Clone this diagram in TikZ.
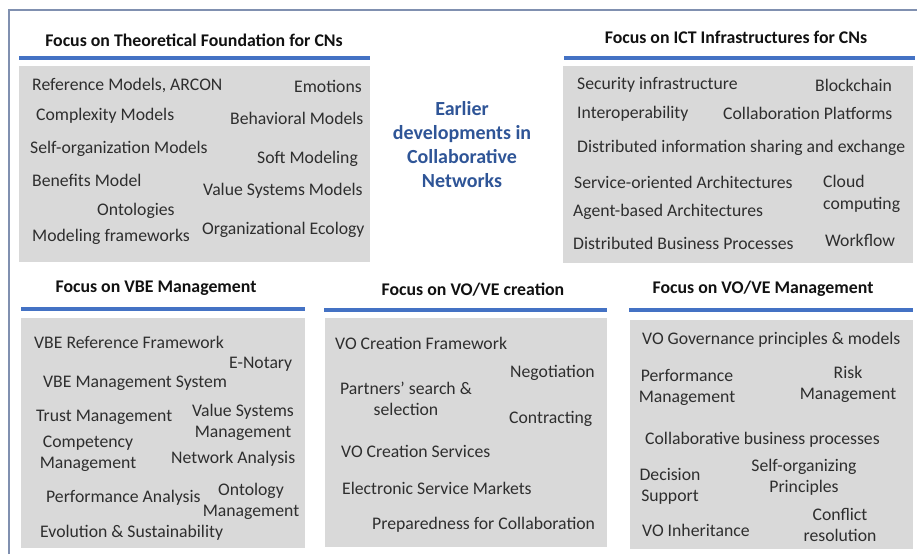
\documentclass[tikz,border=0pt]{standalone}
\usepackage{fontspec}
\setmainfont{Carlito}
\definecolor{framec}{HTML}{8090B0}
\definecolor{barc}{HTML}{4472C4}
\definecolor{panelc}{HTML}{D9D9D9}
\definecolor{itemc}{HTML}{2E2E2E}
\definecolor{titlec}{HTML}{111111}
\definecolor{centerc}{HTML}{2F5597}
\begin{document}
\begin{tikzpicture}[x=1pt,y=-1pt,
  panel/.style={fill=panelc,draw=none},
  bar/.style={draw=barc,line width=3.5pt},
  frameline/.style={draw=framec,line width=1.2pt},
  ttl/.style={inner sep=0pt,text=titlec,font=\fontsize{17.8}{20}\selectfont\bfseries},
  itm/.style={inner sep=0pt,anchor=west,text=itemc,font=\fontsize{17.7}{21}\selectfont},
  itmc/.style={inner sep=0pt,anchor=center,align=center,text=itemc,font=\fontsize{17.7}{21}\selectfont},
  itml/.style={inner sep=0pt,anchor=west,align=left,text=itemc,font=\fontsize{17.7}{22}\selectfont},
  ctr/.style={inner sep=0pt,align=center,text=centerc,font=\fontsize{20}{24}\selectfont\bfseries}]
\useasboundingbox (0,0) rectangle (917,554);
% outer frame
\coordinate (fa) at (9,554);
\coordinate (fb) at (9,10);
\coordinate (fc) at (917,10);
\draw[frameline] (fa) -- (fb) -- (fc);
% panel backgrounds
\path[panel] (19,66) rectangle (370,262);
\path[panel] (563,66) rectangle (913,263);
\path[panel] (21,318) rectangle (305,548);
\path[panel] (325,318) rectangle (607,547);
\path[panel] (630,320) rectangle (913,549);
% title bars
\coordinate (b1a) at (19,58); \coordinate (b1b) at (370,58);
\coordinate (b2a) at (564,58); \coordinate (b2b) at (915,58);
\coordinate (b3a) at (21,309); \coordinate (b3b) at (305,309);
\coordinate (b4a) at (324,310); \coordinate (b4b) at (607,310);
\coordinate (b5a) at (629,310); \coordinate (b5b) at (913,310);
\draw[bar] (b1a) -- (b1b);
\draw[bar] (b2a) -- (b2b);
\draw[bar] (b3a) -- (b3b);
\draw[bar] (b4a) -- (b4b);
\draw[bar] (b5a) -- (b5b);
% titles
\node[ttl] (t1) at (194,40) {Focus on Theoretical Foundation for CNs};
\node[ttl] (t2) at (736,37) {Focus on ICT Infrastructures for CNs};
\node[ttl] (t3) at (156,288) {Focus on VBE Management};
\node[ttl] (t4) at (473,290) {Focus on VO/VE creation};
\node[ttl] (t5) at (763,289) {Focus on VO/VE Management};
% centre text
\node[ctr] (ctr) at (462,145) {Earlier\\developments in\\Collaborative\\Networks};
% panel 1
\node[itm] (p1a) at (32,85) {Reference Models, ARCON};
\node[itm] (p1b) at (294,86) {Emotions};
\node[itm] (p1c) at (36,116) {Complexity Models};
\node[itm] (p1d) at (230,118) {Behavioral Models};
\node[itm] (p1e) at (30,149) {Self-organization Models};
\node[itm] (p1f) at (257,159) {Soft Modeling};
\node[itm] (p1g) at (32,180) {Benefits Model};
\node[itm] (p1h) at (203,191) {Value Systems Models};
\node[itm] (p1i) at (97,211) {Ontologies};
\node[itm] (p1j) at (32,237) {Modeling frameworks};
\node[itm] (p1k) at (202,230) {Organizational Ecology};
% panel 2
\node[itm] (p2a) at (577,85) {Security infrastructure};
\node[itm] (p2b) at (815,85) {Blockchain};
\node[itm] (p2c) at (577,114) {Interoperability};
\node[itm] (p2d) at (723,113) {Collaboration Platforms};
\node[itm] (p2e) at (577,148) {Distributed information sharing and exchange};
\node[itm] (p2f) at (574,182) {Service-oriented Architectures};
\node[itml] (p2g) at (823,194) {Cloud\\computing};
\node[itm] (p2h) at (573,212) {Agent-based Architectures};
\node[itm] (p2i) at (573,243) {Distributed Business Processes};
\node[itm] (p2j) at (825,240) {Workflow};
% panel 3
\node[itm] (p3a) at (34,342) {VBE Reference Framework};
\node[itm] (p3b) at (229,364) {E-Notary};
\node[itm] (p3c) at (43,383) {VBE Management System};
\node[itm] (p3d) at (36,417) {Trust Management};
\node[itmc] (p3e) at (243,422) {Value Systems\\Management};
\node[itmc] (p3f) at (88,454) {Competency\\Management};
\node[itm] (p3g) at (171,459) {Network Analysis};
\node[itm] (p3h) at (46,498) {Performance Analysis};
\node[itmc] (p3i) at (251,501) {Ontology\\Management};
\node[itm] (p3j) at (40,533) {Evolution \& Sustainability};
% panel 4
\node[itm] (p4a) at (335,343) {VO Creation Framework};
\node[itm] (p4b) at (510,373) {Negotiation};
\node[itmc] (p4c) at (406,399) {Partners’ search \&\\selection};
\node[itm] (p4d) at (509,419) {Contracting};
\node[itm] (p4e) at (341,451) {VO Creation Services};
\node[itm] (p4f) at (342,488) {Electronic Service Markets};
\node[itm] (p4g) at (372,525) {Preparedness for Collaboration};
% panel 5
\node[itm] (p5a) at (642,340) {VO Governance principles \& models};
\node[itmc] (p5b) at (687,387) {Performance\\Management};
\node[itmc] (p5c) at (848,384) {Risk\\Management};
\node[itm] (p5d) at (645,440) {Collaborative business processes};
\node[itmc] (p5e) at (804,477) {Self-organizing\\Principles};
\node[itmc] (p5f) at (670,486) {Decision\\Support};
\node[itm] (p5g) at (642,530) {VO Inheritance};
\node[itmc] (p5h) at (840,525) {Conflict\\resolution};
\end{tikzpicture}
\end{document}
